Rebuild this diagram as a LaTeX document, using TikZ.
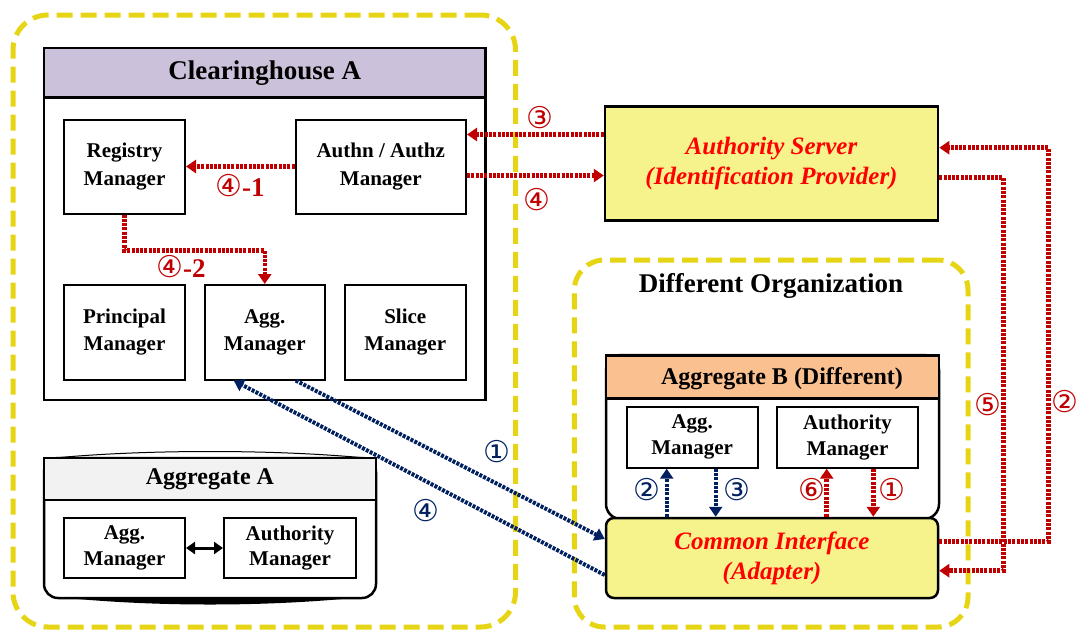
\documentclass[tikz,border=0pt]{standalone}
\usepackage{fontspec}
\setmainfont{Liberation Serif}
\newfontfamily\circfont{DejaVu Sans}
\usetikzlibrary{arrows.meta,calc}
\definecolor{ylw}{RGB}{230,213,20}
\definecolor{lav}{RGB}{204,193,218}
\definecolor{pale}{RGB}{247,243,140}
\definecolor{peach}{RGB}{250,192,143}
\definecolor{lgray}{RGB}{242,242,242}
\definecolor{arrred}{RGB}{192,0,0}
\definecolor{navy}{RGB}{0,32,96}
\definecolor{txtred}{RGB}{255,0,0}
\begin{document}
\begin{tikzpicture}[x=1pt,y=-1pt,
  yframe/.style={draw=ylw, line width=5pt, dash pattern=on 16pt off 8pt, inner sep=0pt},
  frame/.style={draw, line width=2.5pt, inner sep=0pt},
  mgr/.style={draw, line width=2pt, fill=white, align=center, inner sep=0pt,
    font=\fontsize{21}{27.5}\selectfont\bfseries},
  ttl/.style={font=\fontsize{27}{30}\selectfont\bfseries},
  hdr/.style={font=\fontsize{24}{28}\selectfont\bfseries},
  srv/.style={draw, line width=2.5pt, fill=pale, align=center, inner sep=0pt,
    text=txtred, font=\fontsize{25}{30}\selectfont\bfseries\itshape},
  redarr/.style={draw=arrred, line width=4.5pt, dash pattern=on 3pt off 1.3pt,
    -{Triangle[length=10pt,width=13pt]}, arrred},
  bluearr/.style={draw=navy, line width=4pt, dash pattern=on 3pt off 1.3pt,
    -{Triangle[length=10pt,width=13pt]}, navy},
  circr/.style={text=arrred, font=\circfont\fontsize{30}{30}\selectfont, inner sep=0pt},
  circb/.style={text=navy, font=\circfont\fontsize{30}{30}\selectfont, inner sep=0pt},
]
\useasboundingbox (0,0) rectangle (1079,630);

% yellow dashed organisation frames
\node[yframe, rounded corners=35pt, minimum width=502.5pt, minimum height=612pt] (leftorg) at (264.25,321) {};
\node[yframe, rounded corners=30pt, minimum width=393.6pt, minimum height=367pt] (difforg) at (771.2,443.5) {};
\node[ttl] (dtitle) at (771,286) {Different Organization};

% Clearinghouse A
\node[frame, fill=white, minimum width=441.5pt, minimum height=352pt] (ch) at (264.75,224) {};
\node[frame, fill=lav, minimum width=441.5pt, minimum height=49.5pt, ttl] (chh) at (264.75,72.75) {Clearinghouse A};
\node[mgr, minimum width=121pt, minimum height=94pt] (reg) at (124.5,166.5) {Registry\\Manager};
\node[mgr, minimum width=170.5pt, minimum height=94pt] (authn) at (380.75,166.5) {Authn / Authz\\Manager};
\node[mgr, minimum width=121pt, minimum height=94.5pt] (prin) at (124.5,332.25) {Principal\\Manager};
\node[mgr, minimum width=120.5pt, minimum height=94.5pt] (aggch) at (264.75,332.25) {Agg.\\Manager};
\node[mgr, minimum width=120.5pt, minimum height=94.5pt] (slice) at (405.25,332.25) {Slice\\Manager};

% Aggregate A
\draw[line width=1pt] (44,459) .. controls (140,449) and (280,449) .. (376,459);
\node[frame, fill=white, rounded corners=14pt, minimum width=332pt, minimum height=140pt] (agga) at (210,528) {};
\fill (58,597) .. controls (150,607) and (270,607) .. (362,597) -- cycle;
\node[frame, fill=lgray, minimum width=332pt, minimum height=42pt, hdr] (aggah) at (210,479) {Aggregate A};
\node[mgr, minimum width=121pt, minimum height=60pt, font=\fontsize{21}{25.5}\selectfont\bfseries] (aggam) at (124.5,548) {Agg.\\Manager};
\node[mgr, minimum width=132pt, minimum height=60pt, font=\fontsize{21}{25.5}\selectfont\bfseries] (autham) at (290,548) {Authority\\Manager};
\draw[line width=3pt, {Triangle[length=9pt,width=12pt]}-{Triangle[length=9pt,width=12pt]}] (aggam.east) -- (autham.west);

% Authority server
\node[srv, minimum width=333pt, minimum height=114pt] (as) at (771.5,163.5) {Authority Server\\(Identification Provider)};

% Aggregate B
\node[frame, fill=white, rounded corners=15pt, minimum width=333pt, minimum height=164pt] (aggb) at (772.5,437) {};
\node[frame, fill=peach, minimum width=333pt, minimum height=43.3pt] (aggbh) at (772.5,377) {};
\node[hdr] (aggbt) at (782,379) {Aggregate B (Different)};
\node[mgr, minimum width=131pt, minimum height=61pt, font=\fontsize{21}{26}\selectfont\bfseries] (aggbm) at (692.2,437.2) {Agg.\\Manager};
\node[mgr, minimum width=141.6pt, minimum height=61pt, font=\fontsize{21}{26}\selectfont\bfseries] (authbm) at (847.5,437.2) {Authority\\Manager};
\node[srv, rounded corners=8pt, minimum width=332pt, minimum height=80pt] (ci) at (772,558) {Common Interface\\(Adapter)};

% red arrows around the clearinghouse
\draw[redarr] ([yshift=29pt]as.west) -- ([yshift=29pt]as.west -| authn.east);
\draw[redarr] ([yshift=-9pt]authn.east) -- ([yshift=-9pt]authn.east -| as.west);
\draw[redarr] (authn.west) -- (reg.east);
\draw[redarr] (reg.south) -- ++(0,36) -| (aggch.north);
\node[text=arrred, inner sep=0pt] (l41) at (240,186) {{\circfont\fontsize{30}{30}\selectfont ④}{\fontsize{27}{27}\selectfont\bfseries -1}};
\node[text=arrred, inner sep=0pt] (l42) at (181,267) {{\circfont\fontsize{30}{30}\selectfont ④}{\fontsize{27}{27}\selectfont\bfseries -2}};
\node[circr] (l3) at (540,118) {③};
\node[circr] (l4) at (537,200) {④};

% red arrows on the right
\draw[redarr] ([yshift=-14pt]as.east) -- ++(64,0) |- ([yshift=-12.7pt]ci.east);
\draw[redarr] ([yshift=16.3pt]ci.east) -- ++(109,0) |- ([yshift=15.8pt]as.east);
\node[circr] (l5) at (988,405) {⑤};
\node[circr] (l2r) at (1065,402) {②};

% arrows inside aggregate B
\draw[bluearr] ([xshift=-25.5pt]aggbm.south |- ci.north) -- ([xshift=-25.5pt]aggbm.south);
\draw[bluearr] ([xshift=23.5pt]aggbm.south) -- ([xshift=23.5pt]aggbm.south |- ci.north);
\draw[redarr] ([xshift=-20.8pt]authbm.south |- ci.north) -- ([xshift=-20.8pt]authbm.south);
\draw[redarr] ([xshift=25.8pt]authbm.south) -- ([xshift=25.8pt]authbm.south |- ci.north);
\node[circb] (lb2) at (647,490) {②};
\node[circb] (lb3) at (737,490) {③};
\node[circr] (lr6) at (812,490) {⑥};
\node[circr] (lr1) at (892,490) {①};

% blue diagonal arrows
\draw[bluearr] ([xshift=31pt]aggch.south) -- ([yshift=19pt]ci.west);
\draw[bluearr] ([yshift=-17pt]ci.west) -- ([xshift=-31pt]aggch.south);
\node[circb] (lb1) at (497,452) {①};
\node[circb] (lb4) at (426,511) {④};
\end{tikzpicture}
\end{document}
